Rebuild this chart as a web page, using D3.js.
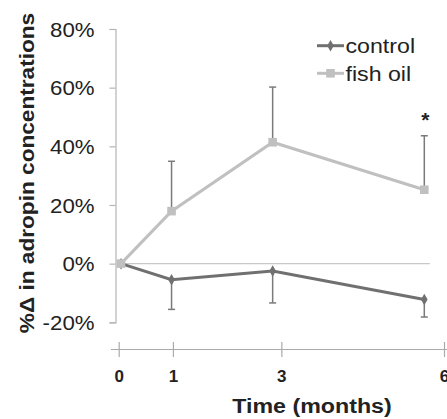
<!DOCTYPE html>
<html><head><meta charset="utf-8">
<script src="https://cdn.jsdelivr.net/npm/d3@7"></script>
<style>body{margin:0;background:#fff}svg{display:block}</style>
</head><body><svg id="c" width="447" height="419"></svg>
<script>
const months = [0, 1, 3, 6];
const xTickLabels = ["0", "1", "3", "6"];
const yTicks = [-20, 0, 20, 40, 60, 80];
const control = [0, -5.5, -2.5, -12.2];
const controlErrLow = [0, 10.1, 10.9, 6.0];
const fishOil = [0, 17.9, 41.4, 25.2];
const fishOilErrHigh = [0, 17.0, 18.8, 18.4];
const seriesNames = ["control", "fish oil"];

const svg = d3.select("#c");
const font = "'Liberation Sans', Arial, sans-serif";
const cDark = "#707070", cLight = "#c0c0c0", cErr = "#7a7a7a";

function stretch(sel, f) {
  sel.each(function () {
    const len = this.getComputedTextLength();
    d3.select(this).attr("textLength", len * f).attr("lengthAdjust", "spacingAndGlyphs");
  });
}

const y = d3.scaleLinear().domain([-20, 80]).range([322.3, 29]);
const xData = d3.scaleLinear().domain([0, 6]).range([121, 424.3]);
const xAxisScale = d3.scaleLinear().domain([0, 6]).range([118.7, 444]);

// y axis
const gy = svg.append("g").attr("transform", "translate(115.5,0)")
  .call(d3.axisLeft(y).tickValues(yTicks).tickSize(6).tickPadding(15)
    .tickFormat(d => d + "%"));
gy.select(".domain").attr("stroke", "#b5b5b5").attr("stroke-width", 1.2);
gy.selectAll(".tick line").attr("stroke", "#b5b5b5").attr("stroke-width", 1.2);
gy.selectAll(".tick text").attr("font-family", font).attr("font-size", 19.5).attr("fill", "#222")
  .attr("dy", "0.36em");
stretch(gy.selectAll(".tick text"), 1.14);

// zero line
svg.append("line").attr("x1", 115.5).attr("x2", 430).attr("y1", y(0)).attr("y2", y(0))
  .attr("stroke", "#c8c8c8").attr("stroke-width", 1.2);

// x axis
const gx = svg.append("g").attr("transform", "translate(0,342)")
  .call(d3.axisBottom(xAxisScale).tickValues(months).tickSize(15).tickSizeOuter(0).tickPadding(13)
    .tickFormat((d, i) => xTickLabels[i]));
gx.select(".domain").remove();
gx.selectAll(".tick line").attr("stroke", "#aaa").attr("stroke-width", 1.2);
gx.selectAll(".tick text").attr("font-family", font).attr("font-size", 17).attr("font-weight", "bold").attr("fill", "#222");
svg.append("line").attr("x1", 111).attr("x2", 447).attr("y1", 349.5).attr("y2", 349.5)
  .attr("stroke", "#aaa").attr("stroke-width", 1.2);

// error bars
function errBars(vals, errs, dir) {
  const g = svg.append("g");
  months.forEach((m, i) => {
    if (!errs[i]) return;
    const x = xData(m), y0 = y(vals[i]), y1 = y(vals[i] + dir * errs[i]);
    g.append("line").attr("x1", x).attr("x2", x).attr("y1", y0).attr("y2", y1)
      .attr("stroke", cErr).attr("stroke-width", 1.5);
    g.append("line").attr("x1", x - 3.5).attr("x2", x + 3.5).attr("y1", y1).attr("y2", y1)
      .attr("stroke", cErr).attr("stroke-width", 1.5);
  });
}
errBars(control, controlErrLow, -1);
errBars(fishOil, fishOilErrHigh, 1);

const line = d3.line().x((d, i) => xData(months[i])).y(d => y(d));
svg.append("path").datum(control).attr("d", line).attr("fill", "none")
  .attr("stroke", cDark).attr("stroke-width", 3);
svg.append("path").datum(fishOil).attr("d", line).attr("fill", "none")
  .attr("stroke", cLight).attr("stroke-width", 3);

const diamond = d3.symbol().type(d3.symbolDiamond).size(38);
svg.append("g").selectAll("path").data(control).join("path")
  .attr("d", diamond).attr("fill", cDark)
  .attr("transform", (d, i) => `translate(${xData(months[i])},${y(d)})`);
svg.append("g").selectAll("rect").data(fishOil).join("rect")
  .attr("x", (d, i) => xData(months[i]) - 4.3).attr("y", d => y(d) - 4.3)
  .attr("width", 8.6).attr("height", 8.6).attr("fill", cLight);

// significance star
svg.append("text").attr("x", xData(6) + 1).attr("y", 127).attr("text-anchor", "middle")
  .attr("font-family", font).attr("font-size", 21).attr("font-weight", "bold").attr("fill", "#222").text("*");

// legend
const legend = svg.append("g");
const legY = [45.7, 73.3];
[cDark, cLight].forEach((c, i) => {
  legend.append("line").attr("x1", 317).attr("x2", 344).attr("y1", legY[i]).attr("y2", legY[i])
    .attr("stroke", c).attr("stroke-width", 3);
  if (i === 0) {
    legend.append("path").attr("d", diamond).attr("fill", c)
      .attr("transform", `translate(330.5,${legY[i]})`);
  } else {
    legend.append("rect").attr("x", 326.2).attr("y", legY[i] - 4.3).attr("width", 8.6).attr("height", 8.6).attr("fill", c);
  }
  legend.append("text").attr("x", 345.5).attr("y", legY[i]).attr("dy", "0.36em")
    .attr("font-family", font).attr("font-size", 20.5).attr("fill", "#222").text(seriesNames[i]);
});
stretch(legend.selectAll("text"), 1.13);

// axis titles
const yt = svg.append("text").attr("transform", "translate(34,173) rotate(-90)").attr("text-anchor", "middle")
  .attr("font-family", font).attr("font-size", 19.5).attr("font-weight", "bold").attr("fill", "#222")
  .text("%Δ in adropin concentrations");
stretch(yt, 1.16);
const xt = svg.append("text").attr("x", 312).attr("y", 412.5).attr("text-anchor", "middle")
  .attr("font-family", font).attr("font-size", 19.5).attr("font-weight", "bold").attr("fill", "#222")
  .text("Time (months)");
stretch(xt, 1.19);
</script></body></html>
